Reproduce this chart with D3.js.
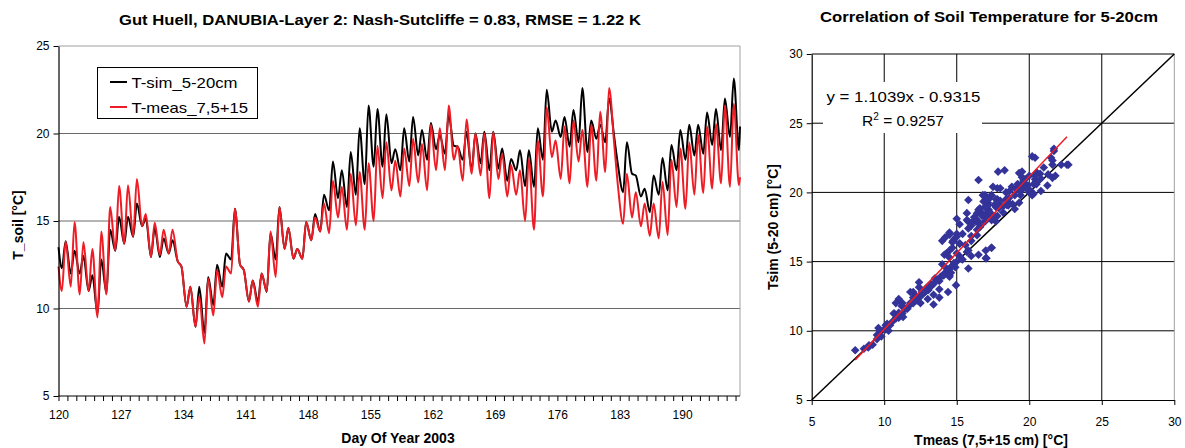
<!DOCTYPE html>
<html><head><meta charset="utf-8">
<script src="https://cdn.jsdelivr.net/npm/d3@7"></script>
<style>
body{margin:0;background:#fff}
svg text{font-family:"Liberation Sans",Arial,Helvetica,sans-serif;fill:#000}
</style>
</head><body>
<svg id="c" width="1185" height="448"></svg>
<script>
// ---------------- DATA ----------------
// Day of year 2003 (one entry per day), with the daily minimum (early morning) and
// daily maximum (afternoon) of each series.
const days = d3.range(120, 197);          // 120 .. 196
const minPhase = 0.38, maxPhase = 0.80;   // time of day of the daily turning points
const seriesStart = 120, seriesEnd = 196.5;

const simStartEnd  = [13.5, 20.4];
const measStartEnd = [12.4, 17.5];

const simMin = [12.3,12.0,12.0,11.0,9.7,10.9,13.3,13.7,14.1,14.7,12.95,12.95,13.15,12.7,10.1,8.95,8.6,10.2,11.25,12.8,
  12.5,10.4,10.4,10.95,12.8,13.4,12.85,12.85,13.9,14.4,15.6,16.3,15.8,16.5,17.1,18.1,18.1,18.3,17.9,18.4,
  18.75,18.5,19.1,18.85,19.3,18.5,17.9,18.3,17.9,18.0,17.3,17.9,17.0,16.95,18.5,20.1,19.8,19.25,19.5,18.95,
  19.7,19.5,19.8,16.65,17.7,16.4,15.5,16.5,16.75,17.9,18.5,18.75,18.85,19.35,19.05,19.8,19.05];
const simMax = [13.85,13.3,13.0,11.9,12.8,14.5,15.25,15.25,16.0,15.15,14.6,14.0,13.9,12.4,11.25,11.25,11.8,12.5,13.15,15.7,
  12.2,11.6,12.0,14.3,15.8,14.6,13.4,14.95,15.4,16.5,18.4,17.9,18.95,20.3,21.6,21.4,21.1,19.1,20.3,20.95,
  20.2,20.6,19.9,21.05,19.25,20.1,20.0,20.1,20.1,19.15,18.55,19.05,19.05,20.3,22.5,20.75,20.95,21.35,22.6,20.75,
  20.5,22.0,18.2,19.5,17.6,16.85,17.6,18.6,19.35,20.2,20.5,20.5,21.2,21.4,22.0,23.15];
const measMin = [11.0,11.25,10.8,11.0,9.5,10.8,13.3,13.7,14.1,14.7,12.95,13.05,13.15,12.7,10.1,8.95,8.0,9.6,10.65,12.0,
  12.5,10.4,10.1,11.0,11.8,13.4,12.85,12.85,13.9,14.4,14.3,15.2,14.5,14.75,14.5,15.0,16.3,16.75,16.4,17.0,
  17.2,16.75,17.9,17.9,18.5,17.3,17.7,17.6,16.3,17.4,16.4,16.5,15.0,14.5,16.4,18.65,17.4,17.15,18.4,16.95,
  17.3,17.8,19.4,14.85,15.2,14.7,14.15,14.0,14.2,15.8,15.7,16.5,16.6,16.85,17.15,16.95,17.05];
const measMax = [13.85,14.95,13.8,13.4,14.4,15.8,17.0,17.05,17.4,15.4,14.9,14.5,14.5,12.4,11.25,10.7,11.7,12.2,12.4,15.7,
  12.2,11.6,12.0,14.4,15.8,14.6,13.4,14.95,15.2,16.0,17.3,16.95,17.7,17.8,18.3,19.3,19.5,18.45,19.15,19.7,
  19.4,20.5,20.3,21.6,19.3,20.8,20.0,20.0,20.1,18.85,18.2,17.9,18.55,19.6,21.5,19.6,20.4,20.75,20.2,20.5,
  21.25,22.6,17.0,17.7,16.65,16.0,16.0,17.25,18.5,19.15,19.5,19.9,20.4,20.55,21.6,21.7];

const cloudMeas = [8.6,8.9,9.2,9.5,9.8,10.0,10.3,10.5,10.2,9.7,10.8,11.0,11.3,11.5,11.8,11.2,12.0,12.3,12.6,12.9,
  12.5,13.0,13.4,13.8,13.2,13.5,13.8,14.1,14.3,14.0,14.6,14.8,14.5,15.0,14.7,15.2,15.0,15.4,15.6,15.3,
  15.8,16.0,16.2,15.7,16.4,16.6,16.0,16.5,17.0,17.4,16.8,17.0,17.3,17.6,17.2,16.8,17.8,18.0,18.2,18.4,
  18.0,18.6,18.8,19.0,19.2,19.4,19.6,19.8,20.0,19.5,20.3,20.5,20.8,21.0,21.3,21.6,21.8,22.2,20.2,19.0,
  17.85,15.8,16.5,20.4,21.7,22.7];
const cloudSim  = [8.7,8.8,9.0,9.4,9.6,10.1,10.0,10.6,10.5,10.0,10.9,11.3,11.0,11.6,12.0,11.8,12.4,12.2,12.8,13.1,
  12.0,12.3,12.6,12.4,13.4,13.8,13.6,14.0,14.5,14.8,14.2,14.9,15.3,15.6,16.0,16.3,16.8,17.0,16.2,15.2,
  17.4,17.8,18.2,18.0,16.9,17.5,15.4,15.5,15.8,16.0,18.4,18.9,18.5,19.1,19.5,19.8,18.3,19.4,19.0,20.0,
  20.3,19.6,20.4,19.8,20.6,20.1,20.9,20.3,21.2,21.5,20.6,21.4,21.0,21.8,21.3,22.3,21.2,22.0,19.8,18.8,
  21.5,19.45,20.9,22.5,23.0,22.0];

const yTicksLeft  = [5, 10, 15, 20, 25];
const xLabelDays  = [120, 127, 134, 141, 148, 155, 162, 169, 176, 183, 190];
const scatterTicks = [5, 10, 15, 20, 25, 30];

const trendSlope = 1.1039, trendIntercept = -0.9315, trendR2 = 0.9257;
const trendXRange = [8.0, 22.6];
const identityRange = [5, 30];

const seriesNames = ["T-sim_5-20cm", "T-meas_7,5+15"];
const seriesColors = ["#000000", "#ee1d25"];

// ---------------- BUILD SERIES ----------------
function buildSeries(startEnd, mins, maxs){
  const pts = [[seriesStart, startEnd[0]]];
  days.forEach((d,i)=>{
    if(mins[i]!==undefined) pts.push([d+minPhase, mins[i]]);
    if(maxs[i]!==undefined) pts.push([d+maxPhase, maxs[i]]);
  });
  pts.push([seriesEnd, startEnd[1]]);
  return pts;
}
const simSeries  = buildSeries(simStartEnd, simMin, simMax);
const measSeries = buildSeries(measStartEnd, measMin, measMax);

// scatter pairs: (measured, simulated) at the same instants + cloud readings
const scatterPts = [];
days.forEach((d,i)=>{
  if(measMin[i]!==undefined) scatterPts.push([measMin[i], simMin[i]]);
  if(measMax[i]!==undefined) scatterPts.push([measMax[i], simMax[i]]);
});
scatterPts.push([measStartEnd[0], simStartEnd[0]], [measStartEnd[1], simStartEnd[1]]);
cloudMeas.forEach((m,i)=>scatterPts.push([m, cloudSim[i]]));

// ---------------- DRAW ----------------
const svg = d3.select("#c");
function fitText(sel, w){ sel.attr("textLength", w).attr("lengthAdjust","spacingAndGlyphs"); return sel; }

// ===== Left chart =====
const L = {x0:58.5, x1:740, y0:46, y1:396};
const xL = d3.scaleLinear().domain([seriesStart, seriesEnd]).range([L.x0, L.x1]);
const yL = d3.scaleLinear().domain([5, 25]).range([L.y1, L.y0]);
const gL = svg.append("g");

gL.selectAll("line.grid").data([10,15,20]).join("line")
  .attr("x1", L.x0).attr("x2", L.x1).attr("y1", d=>yL(d)).attr("y2", d=>yL(d))
  .attr("stroke", "#6a6a6a").attr("stroke-width", 1);
gL.append("path").attr("d", `M${L.x0},${yL(25)}H${L.x1}V${L.y1}`)
  .attr("fill","none").attr("stroke","#a0a0a0").attr("stroke-width",1);

const lineL = d3.line().x(d=>xL(d[0])).y(d=>yL(d[1])).curve(d3.curveMonotoneX);
gL.append("path").datum(simSeries).attr("d", lineL)
  .attr("fill","none").attr("stroke", seriesColors[0]).attr("stroke-width", 2).attr("stroke-linejoin","round");
gL.append("path").datum(measSeries).attr("d", lineL)
  .attr("fill","none").attr("stroke", seriesColors[1]).attr("stroke-width", 2).attr("stroke-linejoin","round");

const axL = gL.append("g").attr("transform", `translate(${L.x0},0)`)
  .call(d3.axisLeft(yL).tickValues(yTicksLeft).tickSize(5).tickSizeOuter(0).tickPadding(4));
const axB = gL.append("g").attr("transform", `translate(0,${L.y1})`)
  .call(d3.axisBottom(xL).tickValues(days).tickSize(5).tickSizeOuter(0).tickPadding(9)
    .tickFormat(d=> xLabelDays.includes(d) ? d : ""));
[axL, axB].forEach(a=>{
  a.selectAll("path.domain").attr("stroke","#000").attr("stroke-width",1.2);
  a.selectAll(".tick line").attr("stroke","#000");
  a.selectAll(".tick text").attr("font-size", 12).attr("font-family",'"Liberation Sans",Arial,sans-serif').attr("fill","#000");
});
axB.select("path.domain").attr("d", `M${L.x0},0H${L.x1}`);

const lg = gL.append("g");
lg.append("rect").attr("x",97.5).attr("y",67.5).attr("width",160).attr("height",51)
  .attr("fill","#fff").attr("stroke","#000").attr("stroke-width",1);
seriesNames.forEach((n,i)=>{
  const cy = 82 + i*25;
  lg.append("line").attr("x1",110).attr("x2",127).attr("y1",cy).attr("y2",cy)
    .attr("stroke", seriesColors[i]).attr("stroke-width",2);
  fitText(lg.append("text").attr("x",131.5).attr("y",cy+5.5).attr("font-size",15).text(n), i===0?106:116.5);
});

fitText(svg.append("text").attr("x",380).attr("y",25).attr("text-anchor","middle")
  .attr("font-size",14).attr("font-weight","bold")
  .text("Gut Huell, DANUBIA-Layer 2: Nash-Sutcliffe = 0.83, RMSE = 1.22 K"), 522);
svg.append("text").attr("x",398).attr("y",442.5).attr("text-anchor","middle")
  .attr("font-size",14).attr("font-weight","bold").text("Day Of Year 2003");
svg.append("text").attr("transform","translate(22.5,225) rotate(-90)").attr("text-anchor","middle")
  .attr("font-size",14).attr("font-weight","bold").text("T_soil [°C]");

// ===== Right chart =====
const R = {x0:811.7, x1:1174.3, y0:54, y1:400};
const xR = d3.scaleLinear().domain([5,30]).range([R.x0, R.x1]);
const yR = d3.scaleLinear().domain([5,30]).range([R.y1, R.y0]);
const gR = svg.append("g");

gR.selectAll("line.h").data(scatterTicks.slice(1)).join("line")
  .attr("x1",R.x0).attr("x2",R.x1).attr("y1",d=>yR(d)).attr("y2",d=>yR(d))
  .attr("stroke","#000").attr("stroke-width",1);
gR.selectAll("line.v").data(scatterTicks.slice(1,-1)).join("line")
  .attr("y1",R.y0).attr("y2",R.y1).attr("x1",d=>xR(d)).attr("x2",d=>xR(d))
  .attr("stroke","#000").attr("stroke-width",1);
gR.append("line").attr("x1",xR(30)).attr("x2",xR(30)).attr("y1",R.y0).attr("y2",R.y1)
  .attr("stroke","#a0a0a0").attr("stroke-width",1);

gR.append("rect").attr("x",823).attr("y",82).attr("width",159).attr("height",51).attr("fill","#fff");

gR.append("line").attr("x1",xR(identityRange[0])).attr("y1",yR(identityRange[0]))
  .attr("x2",xR(identityRange[1])).attr("y2",yR(identityRange[1]))
  .attr("stroke","#000").attr("stroke-width",1.5);

const r = 4.3;
gR.append("g").selectAll("path").data(scatterPts).join("path")
  .attr("d", d=>`M${xR(d[0])},${yR(d[1])-r}l${r},${r}l${-r},${r}l${-r},${-r}z`)
  .attr("fill","#333399");

gR.append("line")
  .attr("x1",xR(trendXRange[0])).attr("y1",yR(trendSlope*trendXRange[0]+trendIntercept))
  .attr("x2",xR(trendXRange[1])).attr("y2",yR(trendSlope*trendXRange[1]+trendIntercept))
  .attr("stroke","#ee1d25").attr("stroke-width",1.5);

const axRL = gR.append("g").attr("transform",`translate(${R.x0},0)`)
  .call(d3.axisLeft(yR).tickValues(scatterTicks).tickSize(5).tickSizeOuter(0).tickPadding(4));
const axRB = gR.append("g").attr("transform",`translate(0,${R.y1})`)
  .call(d3.axisBottom(xR).tickValues(scatterTicks).tickSize(5).tickSizeOuter(0).tickPadding(12));
[axRL, axRB].forEach(a=>{
  a.selectAll("path.domain").attr("stroke","#000").attr("stroke-width",1.2);
  a.selectAll(".tick line").attr("stroke","#000");
  a.selectAll(".tick text").attr("font-size", 12).attr("font-family",'"Liberation Sans",Arial,sans-serif').attr("fill","#000");
});

fitText(svg.append("text").attr("x",903.5).attr("y",102).attr("text-anchor","middle").attr("font-size",15.5)
  .text(`y = ${trendSlope}x - ${Math.abs(trendIntercept)}`), 154);
const t2 = svg.append("text").attr("x",903).attr("y",125.5).attr("text-anchor","middle").attr("font-size",15.5);
t2.append("tspan").text("R");
t2.append("tspan").attr("font-size",10).attr("dy",-6).text("2");
t2.append("tspan").attr("dy",6).text(` = ${trendR2}`);

fitText(svg.append("text").attr("x",989).attr("y",22).attr("text-anchor","middle")
  .attr("font-size",14).attr("font-weight","bold").text("Correlation of Soil Temperature for 5-20cm"), 338);
svg.append("text").attr("x",991).attr("y",445).attr("text-anchor","middle")
  .attr("font-size",14).attr("font-weight","bold").text("Tmeas (7,5+15 cm) [°C]");
svg.append("text").attr("transform","translate(778,227) rotate(-90)").attr("text-anchor","middle")
  .attr("font-size",14).attr("font-weight","bold").text("Tsim (5-20 cm) [°C]");
</script>
</body></html>
